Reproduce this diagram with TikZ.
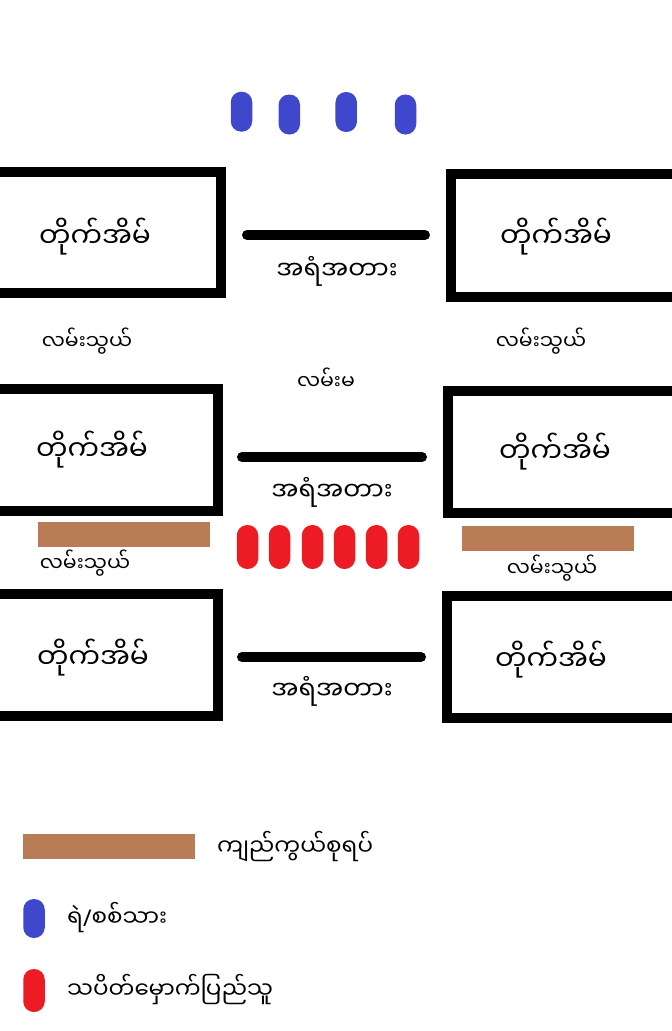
\documentclass[tikz,border=0pt]{standalone}
\usepackage{fontspec}
\newfontfamily\mm[Script=Myanmar]{Noto Sans Myanmar UI}
\newfontfamily\lat{Noto Sans}
\definecolor{wallbrown}{HTML}{B97C56}
\definecolor{policeblue}{HTML}{3F48CC}
\definecolor{protestred}{HTML}{ED1C24}
\tikzset{
  building/.style={draw=black, line width=10pt},
  barrier/.style={draw=black, line width=10pt, line cap=round},
  bigtxt/.style={font=\mm\fontsize{28}{32}\selectfont, inner sep=0pt},
  midtxt/.style={font=\mm\fontsize{25.5}{30}\selectfont, inner sep=0pt},
  smalltxt/.style={font=\mm\fontsize{20.5}{24}\selectfont, inner sep=0pt},
  legtxt/.style={font=\mm\fontsize{23}{28}\selectfont, inner sep=0pt, anchor=west},
  pill/.style={fill=#1, draw=none, rounded corners=10.5pt, minimum width=21.5pt, inner sep=0pt},
  wall/.style={fill=wallbrown, draw=none},
}
\begin{document}
\begin{tikzpicture}[x=1pt,y=-1pt]
\useasboundingbox (0,0) rectangle (672,1031);
\clip (0,0) rectangle (672,1031);
% buildings
\draw[building] (-20,172) -- (221,172) -- (221,293) -- (-20,293);
\draw[building] (700,174) -- (451,174) -- (451,296.5) -- (700,296.5);
\draw[building] (-20,388.5) -- (218,388.5) -- (218,511) -- (-20,511);
\draw[building] (700,391) -- (448,391) -- (448,512.5) -- (700,512.5);
\draw[building] (-20,594) -- (217.5,594) -- (217.5,716) -- (-20,716);
\draw[building] (700,596) -- (447,596) -- (447,718) -- (700,718);
\node[bigtxt] (b1l) at (95,237) {တိုက်အိမ်};
\node[bigtxt] (b1r) at (556,237) {တိုက်အိမ်};
\node[bigtxt] (b2l) at (92,450) {တိုက်အိမ်};
\node[bigtxt] (b2r) at (555,452) {တိုက်အိမ်};
\node[bigtxt] (b3l) at (93,658) {တိုက်အိမ်};
\node[bigtxt] (b3r) at (551,660) {တိုက်အိမ်};
% barriers
\coordinate (r1a) at (247,235); \coordinate (r1b) at (425,235);
\coordinate (r2a) at (242,457); \coordinate (r2b) at (422,457);
\coordinate (r3a) at (242,657); \coordinate (r3b) at (421,657);
\draw[barrier] (r1a) -- (r1b);
\draw[barrier] (r2a) -- (r2b);
\draw[barrier] (r3a) -- (r3b);
\node[midtxt] (t1) at (337,271) {အရံအတား};
\node[midtxt] (t2) at (332,492) {အရံအတား};
\node[midtxt] (t3) at (332,691) {အရံအတား};
% street labels
\node[smalltxt] (s1) at (87,341) {လမ်းသွယ်};
\node[smalltxt] (s2) at (541,341) {လမ်းသွယ်};
\node[smalltxt] (s3) at (85,563) {လမ်းသွယ်};
\node[smalltxt] (s4) at (552,568) {လမ်းသွယ်};
\node[smalltxt] (mainrd) at (326,379) {လမ်းမ};
% walls
\fill[wall] (38,522) rectangle (210,547);
\fill[wall] (462,526) rectangle (634,551);
% police
\node[pill=policeblue, minimum height=40pt] (p1) at (241.5,111.7) {};
\node[pill=policeblue, minimum height=40pt] (p2) at (289.3,114.5) {};
\node[pill=policeblue, minimum height=40pt] (p3) at (346.2,112) {};
\node[pill=policeblue, minimum height=40pt] (p4) at (405.5,114.5) {};
% protesters
\node[pill=protestred, minimum height=44pt] (q1) at (247.5,547) {};
\node[pill=protestred, minimum height=44pt] (q2) at (279.5,547) {};
\node[pill=protestred, minimum height=44pt] (q3) at (312.5,547) {};
\node[pill=protestred, minimum height=44pt] (q4) at (344.5,547) {};
\node[pill=protestred, minimum height=44pt] (q5) at (376.5,547) {};
\node[pill=protestred, minimum height=44pt] (q6) at (408.5,547) {};
% legend
\fill[wall] (23,834) rectangle (195,859);
\node[legtxt] (l1) at (217,847) {ကျည်ကွယ်စုရပ်};
\node[pill=policeblue, minimum height=39pt] (lp) at (34,918.5) {};
\node[legtxt] (l2) at (67,918) {ရဲ{\lat /}စစ်သား};
\node[pill=protestred, minimum height=43pt] (lq) at (34,990.5) {};
\node[legtxt] (l3) at (67,990) {သပိတ်မှောက်ပြည်သူ};
\end{tikzpicture}
\end{document}
